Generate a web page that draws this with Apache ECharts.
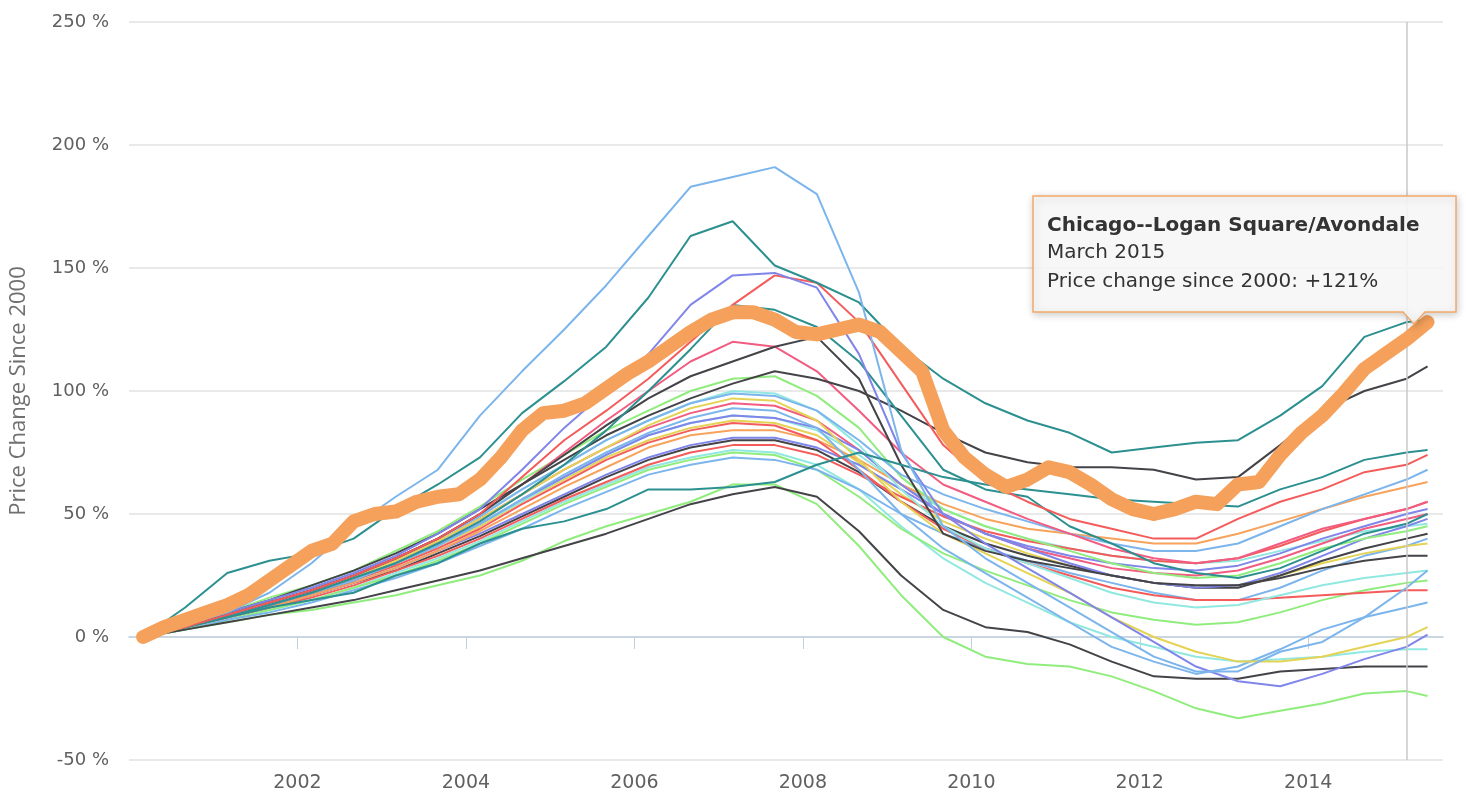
<!DOCTYPE html>
<html><head><meta charset="utf-8">
<script src="https://cdn.jsdelivr.net/npm/echarts@6/dist/echarts.min.js"></script>
<style>html,body{margin:0;padding:0;background:#fff;}#c{width:1466px;height:802px;}</style>
</head><body><div id="c"></div>
<script>
// ---- data ----
const halfYearDates = ['2000-03','2000-09','2001-03','2001-09','2002-03','2002-09','2003-03','2003-09','2004-03','2004-09','2005-03','2005-09','2006-03','2006-09','2007-03','2007-09','2008-03','2008-09','2009-03','2009-09','2010-03','2010-09','2011-03','2011-09','2012-03','2012-09','2013-03','2013-09','2014-03','2014-09','2015-03','2015-06'];
const quarterDates = ['2000-03','2000-06','2000-09','2000-12','2001-03','2001-06','2001-09','2001-12','2002-03','2002-06','2002-09','2002-12','2003-03','2003-06','2003-09','2003-12','2004-03','2004-06','2004-09','2004-12','2005-03','2005-06','2005-09','2005-12','2006-03','2006-06','2006-09','2006-12','2007-03','2007-06','2007-09','2007-12','2008-03','2008-06','2008-09','2008-12','2009-03','2009-06','2009-09','2009-12','2010-03','2010-06','2010-09','2010-12','2011-03','2011-06','2011-09','2011-12','2012-03','2012-06','2012-09','2012-12','2013-03','2013-06','2013-09','2013-12','2014-03','2014-06','2014-09','2014-12','2015-03','2015-06'];
const xTickYears = [2002,2004,2006,2008,2010,2012,2014];
const yTickValues = [-50,0,50,100,150,200,250];

const loganSquare = [0,4,7,10,13,17,23,29,35,38,47,50,51,55,57,58,64,73,84,91,92,95,101,107,112,118,124,129,132,132,129,124,123,125,127,124,116,108,84,73,66,61,64,69,67,62,56,52,50,52,55,54,62,63,74,83,90,99,109,115,121,128];

const nA = [0,5,10,18,30,45,57,68,90,108,125,143,163,183,187,191,180,140,76,45,32,22,12,2,-8,-14,-14,-6,-2,8,20,27];
const nB = [0,12,26,31,34,40,52,62,73,91,104,118,138,163,169,151,144,136,118,105,95,88,83,75,77,79,80,90,102,122,128,129];
const nC = [0,5,10,15,20,26,33,42,52,68,85,100,115,135,147,148,142,115,75,50,38,28,18,8,-2,-12,-18,-20,-15,-9,-4,1];
const nD = [0,4,9,14,19,25,32,40,50,65,80,92,105,120,135,147,144,128,103,78,63,55,48,44,40,40,48,55,60,67,70,74];
const nE = [0,4,8,13,18,24,30,38,47,58,70,84,100,117,135,133,126,112,90,68,60,57,45,38,30,26,24,28,35,42,46,50];
const nF = [0,4,8,12,15,18,25,30,38,44,47,52,60,60,61,63,70,75,70,65,62,60,58,56,55,54,53,60,65,72,75,76];
const nG = [0,5,10,15,21,27,34,42,52,62,72,82,90,97,103,108,105,100,92,83,75,71,69,69,68,64,65,78,92,100,105,110];
const nG2 = [0,4,9,14,19,25,32,40,50,62,74,86,97,106,112,118,122,105,70,42,35,31,28,25,22,21,21,24,28,31,33,33];
const nH = [0,3,6,9,12,15,19,23,27,32,37,42,48,54,58,61,57,43,25,11,4,2,-3,-10,-16,-17,-17,-14,-13,-12,-12,-12];
const nI = [0,3,6,9,11,14,17,21,25,31,39,45,50,55,62,62,54,37,17,0,-8,-11,-12,-16,-22,-29,-33,-30,-27,-23,-22,-24];
const nJ = [0,4,9,14,19,25,32,40,50,62,75,88,100,112,120,118,108,92,75,62,55,48,42,36,32,30,32,38,44,48,52,55];
const nL = [0,5,9,14,19,25,32,40,49,60,70,80,88,95,99,98,92,80,66,58,52,47,42,38,35,35,38,45,52,58,64,68];
const b1 = [0,5,10,16,21,27,35,43,53,64,74,84,92,100,105,106,98,85,65,52,45,40,35,30,26,24,25,30,36,40,43,45];
const b2 = [0,5,10,15,20,25,32,40,50,60,70,80,88,95,100,99,92,78,60,45,36,30,24,18,14,12,13,17,21,24,26,27];
const b3 = [0,5,9,14,19,24,31,39,48,58,68,77,86,93,97,96,88,72,55,42,34,26,18,8,0,-6,-10,-10,-8,-4,0,4];
const b4 = [0,4,9,13,18,23,30,37,46,56,66,75,83,89,93,92,85,68,50,36,26,16,6,-4,-10,-15,-12,-5,3,8,12,14];
const b5 = [0,4,9,14,19,24,30,38,46,56,65,74,82,87,90,89,85,76,62,50,42,36,30,25,22,20,21,26,33,40,45,48];
const b6 = [0,4,9,13,18,23,29,36,44,54,63,72,79,84,87,86,80,68,55,44,36,30,25,20,17,15,15,16,17,18,19,19];
const b7 = [0,4,8,12,17,22,28,35,43,52,61,69,77,82,84,84,80,72,62,54,48,44,42,40,38,38,42,47,52,57,61,63];
const b8 = [0,4,8,12,17,22,28,35,42,50,58,66,73,78,81,81,77,70,60,50,42,37,33,30,28,27,29,34,40,45,50,52];
const b9 = [0,4,8,12,17,22,27,34,41,49,57,65,72,77,80,80,76,67,55,45,38,33,29,25,22,20,20,25,31,36,40,42];
const b10 = [0,4,8,12,16,21,27,33,40,48,56,63,70,75,78,78,74,66,57,49,43,39,36,33,31,30,32,37,43,48,52,55];
const b11 = [0,3,7,11,15,20,26,32,39,47,55,62,69,73,76,75,70,60,45,32,22,14,6,0,-4,-8,-10,-9,-8,-6,-5,-5];
const b12 = [0,3,7,11,15,20,25,31,38,46,54,61,68,72,75,74,68,57,44,34,27,21,15,10,7,5,6,10,15,19,22,23];
const b13 = [0,3,7,10,14,19,24,30,37,44,52,59,66,70,73,72,68,60,50,42,36,31,26,22,18,15,15,20,27,33,37,40];
const b14 = [0,5,9,14,19,24,31,39,48,58,68,77,85,91,95,94,88,76,62,50,42,36,32,28,26,25,27,32,38,44,48,50];
const b15 = [0,4,9,13,18,23,29,37,45,55,64,73,80,85,88,87,82,71,58,47,40,34,29,25,22,20,21,25,30,34,37,38];
const b16 = [0,4,9,13,18,23,30,37,46,55,65,74,82,87,90,89,84,74,62,52,45,40,36,33,31,30,31,35,39,43,45,46];

const C_BLUE='#7cb5ec',C_BLACK='#434348',C_GREEN='#90ed7d',C_ORANGE='#f7a35c',C_PURPLE='#8085e9',C_PINK='#f15c80',C_YELLOW='#e4d354',C_TEAL='#2b908f',C_RED='#f45b5b',C_CYAN='#91e8e1';

const others = [
  ['Area 1', C_CYAN, b11], ['Area 2', C_GREEN, b12], ['Area 3', C_BLUE, b13], ['Area 4', C_YELLOW, b15],
  ['Area 5', C_CYAN, b16], ['Area 6', C_PINK, b14], ['Area 7', C_BLACK, b9], ['Area 8', C_RED, b10],
  ['Area 9', C_PURPLE, b8], ['Area 10', C_ORANGE, b7], ['Area 11', C_RED, b6], ['Area 12', C_PURPLE, b5],
  ['Area 13', C_BLUE, b4], ['Area 14', C_YELLOW, b3], ['Area 15', C_CYAN, b2], ['Area 16', C_GREEN, b1],
  ['Area 17', C_BLUE, nL], ['Area 18', C_PINK, nJ], ['Area 19', C_GREEN, nI], ['Area 20', C_BLACK, nH],
  ['Area 21', C_BLACK, nG2], ['Area 22', C_BLACK, nG], ['Area 23', C_TEAL, nF], ['Area 24', C_TEAL, nE],
  ['Area 25', C_RED, nD], ['Area 26', C_PURPLE, nC], ['Area 27', C_TEAL, nB], ['Area 28', C_BLUE, nA]
];

// ---- build ----
function toYear(s){const p=s.split('-');return +p[0]+(+p[1]-1)/12;}
const halfX = halfYearDates.map(toYear);
const quarterX = quarterDates.map(toYear);
const FONT = '"DejaVu Sans", "Lucida Grande", sans-serif';

const series = others.map(function(o){
  return {name:o[0], type:'line', symbol:'none', smooth:false, silent:true,
    lineStyle:{color:o[1], width:2}, itemStyle:{color:o[1]}, z:2,
    data:o[2].map(function(v,i){return [halfX[i], v];})};
});
series[0].markLine = {silent:true, symbol:'none', label:{show:false}, animation:false,
  lineStyle:{color:'#c8c8c8', width:1.5, type:'solid'}, data:[{xAxis: toYear('2015-03')}]};
series.push({name:'Chicago--Logan Square/Avondale', type:'line', symbol:'none', z:5, silent:true,
  lineStyle:{color:'#f5a15b', width:14, cap:'round', join:'round'}, itemStyle:{color:'#f5a15b'},
  data:loganSquare.map(function(v,i){return [quarterX[i], v];})});

const chart = echarts.init(document.getElementById('c'), null, {renderer:'canvas'});
chart.setOption({
  animation:false,
  grid:{left:127, right:23, top:22, bottom:42, containLabel:false},
  xAxis:{type:'value', min:2000, max:2015.6,
    axisLine:{show:true, lineStyle:{color:'#c0d0e0', width:1.5}},
    axisTick:{show:true, length:12, customValues:xTickYears, lineStyle:{color:'#c0d0e0', width:1}},
    axisLabel:{customValues:xTickYears, color:'#606060', fontFamily:FONT, fontSize:19, margin:14,
      formatter:function(v){return String(Math.round(v));}},
    splitLine:{show:false}},
  yAxis:{type:'value', min:-50, max:250, interval:50,
    name:'Price Change Since 2000', nameLocation:'middle', nameGap:99, nameRotate:90,
    nameTextStyle:{color:'#707070', fontFamily:'"Open Sans", sans-serif', fontSize:22},
    axisLine:{show:false}, axisTick:{show:false},
    axisLabel:{color:'#606060', fontFamily:FONT, fontSize:18, margin:20, formatter:function(v){return v+' %';}},
    splitLine:{lineStyle:{color:'#e2e2e2', width:1.5}}},
  series:series,
  graphic:[
    {type:'polygon', z:100, shape:{points:[[1033,196],[1456,196],[1456,312],[1425,312],[1414,324],[1403,312],[1033,312]]},
      style:{fill:'rgba(250,250,250,0.93)', stroke:'#f3a868', lineWidth:1.5, shadowBlur:8, shadowColor:'rgba(0,0,0,0.22)', shadowOffsetX:1, shadowOffsetY:2}},
    {type:'text', z:101, x:1047, y:226, style:{text:'Chicago--Logan Square/Avondale', font:'bold 20px '+FONT, fill:'#333333', verticalAlign:'middle'}},
    {type:'text', z:101, x:1047, y:253, style:{text:'March 2015', font:'20px '+FONT, fill:'#333333', verticalAlign:'middle'}},
    {type:'text', z:101, x:1047, y:282, style:{text:'Price change since 2000: +121%', font:'20px '+FONT, fill:'#333333', verticalAlign:'middle'}}
  ]
});
</script></body></html>
